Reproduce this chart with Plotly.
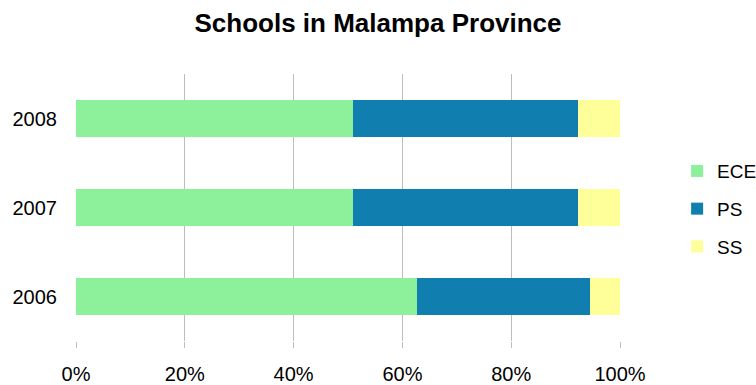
import plotly.graph_objects as go

years = ["2006", "2007", "2008"]
ece = [62.6, 50.9, 50.9]
ps = [31.9, 41.4, 41.4]
ss = [5.5, 7.7, 7.7]
series_names = ["ECE", "PS", "SS"]
colors = ["#8DF09B", "#107FAF", "#FFFF99"]
x_ticks = [0, 20, 40, 60, 80, 100]
x_tick_labels = ["0%", "20%", "40%", "60%", "80%", "100%"]

FONT = "Liberation Sans, Arial, sans-serif"

fig = go.Figure()
for name, vals, col in zip(series_names, [ece, ps, ss], colors):
    fig.add_trace(go.Bar(
        y=years, x=vals, name=name, orientation="h",
        marker=dict(color=col, line=dict(width=0)),
        legendgroup=name,
    ))

fig.update_layout(
    barmode="stack",
    bargap=0.58,
    width=756, height=385,
    margin=dict(l=76, r=136, t=74, b=44, autoexpand=False),
    paper_bgcolor="white", plot_bgcolor="white",
    font=dict(family=FONT, color="#000000", size=20),
    title=dict(text="<b>Schools in Malampa Province</b>", x=0.5, xanchor="center",
               y=1 - 23 / 385, yanchor="middle", font=dict(size=26, family=FONT)),
    legend=dict(x=1.105, y=0.494, xanchor="left", yanchor="middle",
                font=dict(size=19), tracegroupgap=10, traceorder="grouped",
                bgcolor="rgba(0,0,0,0)"),
    xaxis=dict(range=[0, 100], tickvals=x_ticks, ticktext=x_tick_labels,
               showgrid=True, gridcolor="#bdbdbd", gridwidth=1,
               ticks="outside", ticklen=6, tickcolor="#bdbdbd",
               zeroline=False, showline=False, ticklabelstandoff=9,
               automargin=False, tickfont=dict(size=20)),
    yaxis=dict(categoryorder="array", categoryarray=years,
               showgrid=False, zeroline=False, showline=False,
               ticks="", ticklabelstandoff=18, automargin=False,
               tickfont=dict(size=20)),
)

fig.write_html(
    "out.html",
    config={"displayModeBar": False},
    post_script="document.body.style.margin='0';document.body.style.padding='0';",
)
